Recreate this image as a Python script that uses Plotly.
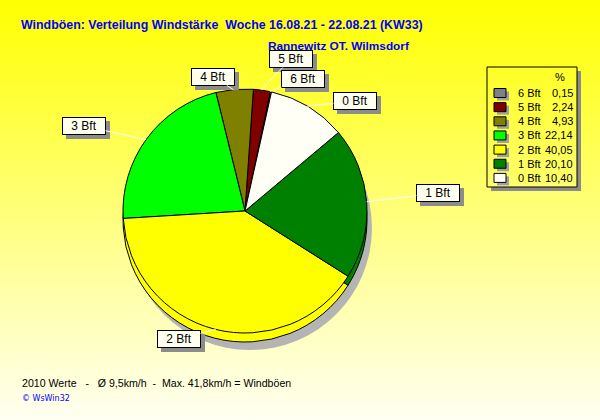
import numpy as np
import plotly.graph_objects as go

# ---- data ----
labels = ["6 Bft", "5 Bft", "4 Bft", "3 Bft", "2 Bft", "1 Bft", "0 Bft"]
values = [0.15, 2.24, 4.93, 22.14, 40.05, 20.10, 10.40]
title_text = "Windböen: Verteilung Windstärke  Woche 16.08.21 - 22.08.21 (KW33)"
subtitle_text = "Rannewitz OT. Wilmsdorf"
footer_text = "2010 Werte   -   Ø 9,5km/h  -  Max. 41,8km/h = Windböen"
credit_text = "© WsWin32"

# ---- style ----
colors = ["#808080", "#800000", "#808000", "#00FF00", "#FFFF00", "#008000", "#FFFFF6"]
W, H = 600, 420
CX, CY, R = 245, 211, 122          # pie centre / radius in pixels
DEPTH = 9                          # pseudo 3D thickness
ROT = 12                           # first slice starts 12 deg clockwise from 12 o'clock
FONT = "Liberation Sans"
SHADOW = "#8C8C8C"
# label box centres (pixels)
box_pos = {"6 Bft": (303, 79), "5 Bft": (291, 59), "4 Bft": (213, 77),
           "3 Bft": (84, 126), "2 Bft": (179, 339), "1 Bft": (438, 193),
           "0 Bft": (355, 101)}
BOX_W, BOX_H = 44, 18
# legend geometry (pixels)
LG_X0, LG_Y0, LG_X1, LG_Y1 = 487, 67, 577, 187
LG_ROW0, LG_STEP = 93, 14.15


def px(x):
    return x / W


def py(y):
    return 1 - y / H


def dom(cx, cy, r):
    return dict(x=[px(cx - r), px(cx + r)], y=[py(cy + r), py(cy - r)])


def fmt(v):
    return f"{v:.2f}".replace(".", ",")


fig = go.Figure()

# background gradient
fig.add_trace(go.Scatter(
    x=[0, 1, 1, 0, 0], y=[0, 0, 1, 1, 0], mode="lines", fill="toself",
    line=dict(width=0), hoverinfo="skip", showlegend=False,
    fillgradient=dict(type="vertical", colorscale=[[0, "#FFFFF2"], [1, "#FFFF00"]]),
))

# shadow
fig.add_trace(go.Pie(
    values=[sum(values)], labels=["shadow"], domain=dom(CX + 5, CY + DEPTH + 8, R),
    marker=dict(colors=["#B4B4B4"], line=dict(width=0)), textinfo="none",
    hoverinfo="skip", showlegend=False, sort=False,
))
# side (thickness)
fig.add_trace(go.Pie(
    values=values, labels=[l + " side" for l in labels], domain=dom(CX, CY + DEPTH, R),
    marker=dict(colors=colors, line=dict(color="black", width=1)), textinfo="none",
    hoverinfo="skip", showlegend=False, sort=False, direction="counterclockwise",
    rotation=ROT,
))
# top face
fig.add_trace(go.Pie(
    values=values, labels=labels, domain=dom(CX, CY, R),
    marker=dict(colors=colors, line=dict(color="black", width=1)), textinfo="none",
    hovertemplate="%{label}: %{value:.2f} %<extra></extra>", sort=False,
    direction="counterclockwise", rotation=ROT, showlegend=False,
))

annotations = []
shapes = []
# label boxes with leader lines
cum = np.cumsum([0] + values[:-1])
tot = sum(values)
for lab, v, c0 in zip(labels, values, cum):
    th = np.deg2rad(90 - ROT + (c0 + v / 2) / tot * 360)
    ex, ey = CX + R * np.cos(th), CY - R * np.sin(th)
    bx, by = box_pos[lab]
    shapes.append(dict(type="rect", xref="paper", yref="paper", layer="above",
                       x0=px(bx - BOX_W / 2 + 4), x1=px(bx + BOX_W / 2 + 4),
                       y0=py(by + BOX_H / 2 + 4), y1=py(by - BOX_H / 2 + 4),
                       fillcolor=SHADOW, line=dict(width=0)))
    annotations.append(dict(
        x=px(ex), y=py(ey), xref="paper", yref="paper", text=lab,
        showarrow=True, ax=bx - ex, ay=by - ey, arrowhead=0, arrowwidth=1,
        arrowcolor="white", standoff=0, width=BOX_W - 4, height=BOX_H - 4,
        bgcolor="#FFFFF0", bordercolor="black", borderwidth=1, borderpad=1,
        font=dict(size=12, color="black", family=FONT)))

# legend (drawn from the data arrays)
shapes.append(dict(type="rect", xref="paper", yref="paper", x0=px(LG_X1), x1=px(LG_X1 + 4),
                   y0=py(LG_Y1 + 4), y1=py(LG_Y0 + 4), fillcolor=SHADOW, line=dict(width=0)))
shapes.append(dict(type="rect", xref="paper", yref="paper", x0=px(LG_X0 + 4), x1=px(LG_X1 + 4),
                   y0=py(LG_Y1 + 4), y1=py(LG_Y1), fillcolor=SHADOW, line=dict(width=0)))
shapes.append(dict(type="rect", xref="paper", yref="paper", x0=px(LG_X0), x1=px(LG_X1),
                   y0=py(LG_Y1), y1=py(LG_Y0), line=dict(color="black", width=1)))
annotations.append(dict(x=px(560), y=py(77), xref="paper", yref="paper", text="%",
                        showarrow=False, xanchor="center", yanchor="middle",
                        font=dict(size=11, color="black", family=FONT)))
for i, (lab, v, col) in enumerate(zip(labels, values, colors)):
    ry = LG_ROW0 + i * LG_STEP
    shapes.append(dict(type="rect", xref="paper", yref="paper", x0=px(497), x1=px(509),
                       y0=py(ry + 7.5), y1=py(ry - 1.5), fillcolor="#A0A0A0",
                       line=dict(width=0)))
    shapes.append(dict(type="rect", xref="paper", yref="paper", x0=px(494), x1=px(506),
                       y0=py(ry + 4.5), y1=py(ry - 4.5), fillcolor=col,
                       line=dict(color="black", width=1)))
    annotations.append(dict(x=px(516), y=py(ry), xref="paper", yref="paper", text=lab,
                            showarrow=False, xanchor="left", yanchor="middle",
                            font=dict(size=11, color="black", family=FONT)))
    annotations.append(dict(x=px(575), y=py(ry), xref="paper", yref="paper", text=fmt(v),
                            showarrow=False, xanchor="right", yanchor="middle",
                            font=dict(size=11, color="black", family=FONT)))

annotations += [
    dict(x=px(19), y=py(25), xref="paper", yref="paper", xanchor="left",
         yanchor="middle", showarrow=False, text=f"<b>{title_text}</b>",
         font=dict(size=12.4, color="#0000FF", family=FONT)),
    dict(x=px(266), y=py(46), xref="paper", yref="paper", xanchor="left",
         yanchor="middle", showarrow=False, text=f"<b>{subtitle_text}</b>",
         font=dict(size=11.8, color="#0000FF", family=FONT)),
    dict(x=px(20), y=py(383), xref="paper", yref="paper", xanchor="left",
         yanchor="middle", showarrow=False, text=footer_text,
         font=dict(size=10.6, color="black", family=FONT)),
    dict(x=px(20), y=py(398), xref="paper", yref="paper", xanchor="left",
         yanchor="middle", showarrow=False, text=credit_text,
         font=dict(size=8, color="#0000FF", family="DejaVu Sans")),
]

fig.update_layout(
    width=W, height=H, margin=dict(l=0, r=0, t=0, b=0),
    paper_bgcolor="#FFFFF2", plot_bgcolor="rgba(0,0,0,0)",
    xaxis=dict(range=[0, 1], visible=False, fixedrange=True),
    yaxis=dict(range=[0, 1], visible=False, fixedrange=True),
    showlegend=False,
    annotations=annotations,
    shapes=shapes,
)

fig.write_html("out.html", config={"displayModeBar": False},
               post_script="document.body.style.margin='0';document.body.style.overflow='hidden';")
